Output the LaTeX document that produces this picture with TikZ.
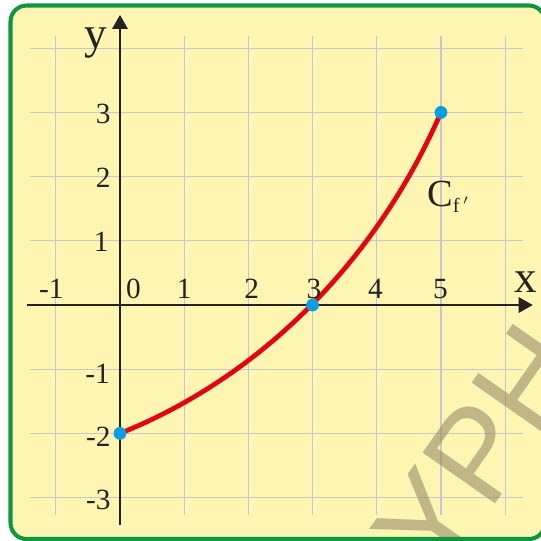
\documentclass[tikz,border=0pt]{standalone}
\usepackage{fontspec}
\setmainfont{Liberation Serif}
\newfontfamily\wmfont{Liberation Sans}
\usetikzlibrary{arrows.meta}
\definecolor{bgyellow}{RGB}{255,245,178}
\definecolor{framegreen}{RGB}{16,150,64}
\definecolor{gridc}{RGB}{198,198,208}
\definecolor{axisc}{RGB}{35,35,35}
\definecolor{curvered}{RGB}{226,6,19}
\definecolor{dotblue}{RGB}{14,158,224}
\definecolor{wmc}{RGB}{150,140,105}
\begin{document}
\begin{tikzpicture}[
  gridline/.style={draw=gridc, line width=0.5pt},
  axisline/.style={draw=axisc, line width=0.9pt, -{Triangle[length=0.22cm,width=0.24cm]}},
  ticklab/.style={inner sep=0pt, font=\fontsize{13}{13}\selectfont, text=axisc},
  axlab/.style={inner sep=0pt, font=\fontsize{20}{20}\selectfont, text=axisc},
  pointdot/.style={circle, fill=dotblue, inner sep=0pt, minimum size=0.2cm},
  curveline/.style={draw=curvered, line width=2.1pt},
  frame/.style={draw=framegreen, line width=1.8pt, rounded corners=0.25cm},
]
\useasboundingbox (-1.869,-3.676) rectangle (6.558,4.751);
\clip (-1.869,-3.676) rectangle (6.558,4.751);
% background
\fill[bgyellow, rounded corners=0.25cm] (-1.705,-3.645) rectangle (6.62,4.665);
% grid
\foreach \x in {-1,...,6} \draw[gridline] (\x,-3.27) -- (\x,4.19);
\foreach \y in {-3,...,4} \draw[gridline] (-1.40,\y) -- (6.28,\y);
% watermark
\node[rotate=55, anchor=base west, inner sep=0pt, text=wmc, text opacity=0.6,
      font=\wmfont\fontsize{57}{57}\selectfont] (wm) at (4.984,-4.33) {YPH};
% axes
\coordinate (xs) at (-1.45,0);
\coordinate (xe) at (6.43,0);
\coordinate (ys) at (0,-3.43);
\coordinate (ye) at (0,4.52);
\draw[axisline] (xs) -- (xe);
\draw[axisline] (ys) -- (ye);
% curve
\coordinate (A) at (0,-2);
\coordinate (B) at (3,0);
\coordinate (C) at (5,3);
\draw[curveline] (A) .. controls (2.2,-1.12) and (4,0.7) .. (C);
\node[pointdot] (pA) at (A) {};
\node[pointdot] (pB) at (B) {};
\node[pointdot] (pC) at (C) {};
% tick labels x
\node[ticklab, anchor=base] (xm1) at (-1.07,0.1) {-1};
\node[ticklab, anchor=base] (x0) at (0.21,0.1) {0};
\node[ticklab, anchor=base] (x1) at (1.0,0.1) {1};
\node[ticklab, anchor=base] (x2) at (2.05,0.1) {2};
\node[ticklab, anchor=base] (x3) at (3.02,0.1) {3};
\node[ticklab, anchor=base] (x4) at (3.98,0.1) {4};
\node[ticklab, anchor=base] (x5) at (4.99,0.1) {5};
% tick labels y
\node[ticklab, anchor=east] (y3) at (-0.14,2.975) {3};
\node[ticklab, anchor=east] (y2) at (-0.14,1.98) {2};
\node[ticklab, anchor=east] (y1) at (-0.17,0.99) {1};
\node[ticklab, anchor=east] (ym1) at (-0.15,-1.07) {-1};
\node[ticklab, anchor=east] (ym2) at (-0.14,-2.06) {-2};
\node[ticklab, anchor=east] (ym3) at (-0.14,-3.04) {-3};
% axis labels
\node[axlab, anchor=base] (ylab) at (-0.37,4.0) {y};
\node[axlab, anchor=base] (xlab) at (6.32,0.19) {x};
% curve label
\node[inner sep=0pt, anchor=base west, text=axisc, font=\fontsize{17}{17}\selectfont] (cf) at (4.78,1.53)
  {C\raisebox{-2.7pt}{\fontsize{9}{9}\selectfont f\,$'$}};
% frame
\draw[frame] (-1.705,-3.645) rectangle (6.62,4.665);
\end{tikzpicture}
\end{document}
